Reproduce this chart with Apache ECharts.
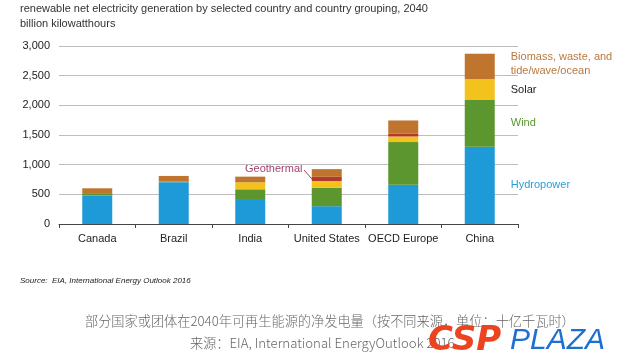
<!DOCTYPE html>
<html><head><meta charset="utf-8">
<script src="https://cdn.jsdelivr.net/npm/echarts@6/dist/echarts.min.js"></script>
<style>html,body{margin:0;padding:0;background:#fff}#c{width:620px;height:364px}</style>
</head><body><div id="c"></div>
<script>
const categories = ['Canada','Brazil','India','United States','OECD Europe','China'];
const hydropower = [480, 705, 405, 300, 660, 1300];
const wind       = [40, 10, 180, 310, 720, 790];
const solar      = [0, 0, 118, 115, 95, 350];
const geothermal = [0, 0, 0, 70, 45, 0];
const biomass    = [82, 95, 95, 130, 225, 430];
const yTicks = [0, 500, 1000, 1500, 2000, 2500, 3000];
const seriesNames = ['Hydropower','Wind','Solar','Geothermal','Biomass, waste, and\ntide/wave/ocean'];
const colors = ['#1f9ad9','#5b962f','#f3c21c','#b23a2c','#c0752f'];
const labelColors = ['#2a9fd8','#5b962f','#222222',null,'#b9783f'];

const chart = echarts.init(document.getElementById('c'));
const dataArr = [hydropower, wind, solar, geothermal, biomass];
const font = 'Liberation Sans, Arial, sans-serif';
const series = dataArr.map((arr, i) => ({
  name: seriesNames[i], type: 'bar', stack: 'total', barWidth: 30,
  itemStyle: { color: colors[i] },
  data: arr.map((v, j) => {
    const d = { value: v };
    if (j === categories.length - 1 && labelColors[i]) {
      d.label = { show: true, position: 'right', distance: 16, formatter: seriesNames[i],
        color: labelColors[i], fontSize: 11, fontFamily: font, lineHeight: 14, align: 'left',
        offset: [0, i === 4 ? -3 : 0] };
    }
    return d;
  })
}));

chart.setOption({
  animation: false,
  grid: { left: 59, right: 102, top: 46, bottom: 140, containLabel: false },
  xAxis: { type: 'category', data: categories,
    axisLine: { lineStyle: { color: '#444', width: 1 } },
    axisTick: { show: true, length: 4, interval: 0, lineStyle: { color: '#444' } },
    axisLabel: { color: '#222', fontSize: 11, fontFamily: font, margin: 9, interval: 0 } },
  yAxis: { type: 'value', min: 0, max: 3000, interval: 500,
    axisLine: { show: false }, axisTick: { show: false },
    axisLabel: { color: '#222', fontSize: 11, fontFamily: font, margin: 9,
      formatter: v => yTicks.includes(v) ? v.toLocaleString('en-US') : '' },
    splitLine: { lineStyle: { color: '#bdbdbd', width: 1 } } },
  series: series,
  graphic: [
    { type: 'text', left: 20, top: 3, style: { text: 'renewable net electricity generation by selected country and country grouping, 2040',
      fill: '#333', font: '11px ' + font } },
    { type: 'text', left: 20, top: 18, style: { text: 'billion kilowatthours', fill: '#333', font: '11px ' + font } },
    { type: 'text', left: 245, top: 163, style: { text: 'Geothermal', fill: '#a23f6c', font: '11px ' + font } },
    { type: 'polyline', shape: { points: [[304, 170], [312, 179]] }, style: { stroke: '#a23f6c', lineWidth: 1, fill: null } },
    { type: 'text', left: 20, top: 277, style: { text: 'Source:  EIA, International Energy Outlook 2016', fill: '#222', font: 'italic 8px ' + font } },
    { type: 'text', left: 85, top: 314, style: { text: '部分国家或团体在2040年可再生能源的净发电量（按不同来源，单位：十亿千瓦时）', fill: '#666', font: '300 13.2px "Noto Sans CJK SC"' } },
    { type: 'text', left: 190, top: 336, style: { text: '来源：EIA, International EnergyOutlook 2016', fill: '#666', font: '300 13.2px "Noto Sans CJK SC"' } },
    { type: 'text', left: 428, top: 324, style: { text: 'CSP', fill: '#ec4320', font: 'italic 900 34px "DejaVu Sans", sans-serif' } },
    { type: 'text', left: 510, top: 326, style: { text: 'PLAZA', fill: '#1d6fd1', font: 'italic 400 30px "Liberation Sans", Arial, sans-serif' } }
  ]
});
</script></body></html>
